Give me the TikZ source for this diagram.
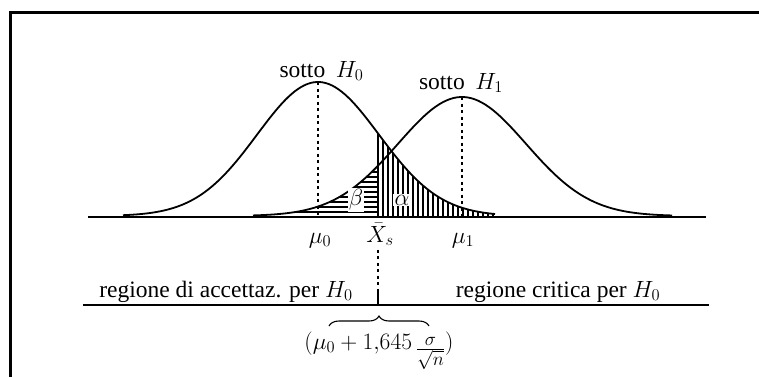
\RequirePackage{fix-cm}
\documentclass[tikz,border=0pt]{standalone}
\usepackage{fontspec}
\setmainfont{Liberation Serif}
\usetikzlibrary{decorations.pathreplacing}
\begin{document}
\begin{tikzpicture}[x=1pt,y=-1pt,
  lbl/.style={font=\fontsize{23.5}{27}\selectfont, inner sep=0pt},
  glbl/.style={font=\fontsize{23.5}{27}\selectfont, inner sep=1.2pt, fill=white},
  curve/.style={line width=1.8pt, line join=round},
  hatch/.style={line width=1.1pt},
  dashline/.style={line width=1.3pt, dash pattern=on 3pt off 3.5pt},
  axisline/.style={line width=1.3pt},
  regline/.style={line width=2.8pt},
]
\useasboundingbox (0,0) rectangle (759,376);
\begin{scope}
  \clip (0,0) rectangle (759,376);
  \draw[line width=3pt] (10.5,12) rectangle (800,420);
\end{scope}

% axis
\coordinate (axl) at (88,217);
\coordinate (axr) at (706,217);
\draw[axisline] (axl) -- (axr);

% hatching under H0 right of Xs (vertical)
\foreach \xx in {383,388,...,495} {
  \draw[hatch] (\xx,217) -- (\xx,{216-134*exp(-0.5*((\xx-318)/61)^2)});
}
% hatching under H1 left of Xs (horizontal)
\foreach \yy in {212,207,...,167} {
  \pgfmathsetmacro\xl{462-64*sqrt(2*ln(119/(216-\yy)))}
  \draw[hatch] (\xl,\yy) -- (378,\yy);
}

% curves
\draw[curve] plot[domain=123:495, samples=120, smooth] (\x,{216-134*exp(-0.5*((\x-318)/61)^2)});
\draw[curve] plot[domain=253:672, samples=120, smooth] (\x,{216-119*exp(-0.5*((\x-462)/64)^2)});

% Xs line
\coordinate (xtop) at (378,133.4);
\coordinate (xbot) at (378,217);
\draw[line width=1.8pt] (xtop) -- (xbot);

% dashed mean lines
\coordinate (p0) at (318,82);
\coordinate (q0) at (318,217);
\coordinate (p1) at (462,97);
\coordinate (q1) at (462,217);
\draw[dashline] (p0) -- (q0);
\draw[dashline] (p1) -- (q1);

% alpha beta
\node[glbl] (beta) at (356,200) {$\beta$};
\node[glbl] (alpha) at (402,200) {$\alpha$};

% top labels
\node[lbl, anchor=base] (s0) at (321.5,77) {sotto\hspace{0.45em}$H_0$};
\node[lbl, anchor=base] (s1) at (461,89) {sotto\hspace{0.45em}$H_1$};

% axis labels
\node[lbl, anchor=base] (m0) at (320,243) {$\mu_0$};
\node[lbl, anchor=base] (xs) at (380,242) {$\bar{X}_s$};
\node[lbl, anchor=base] (m1) at (463,243) {$\mu_1$};

% region line
\coordinate (bl) at (83,305);
\coordinate (br) at (709,305);
\draw[regline] (bl) -- (br);
\coordinate (ts) at (378,291);
\coordinate (tb) at (378,305);
\draw[dashline] ([yshift=-4pt]xs.south -| ts) -- (ts);
\draw[line width=1.8pt] (ts) -- (tb);

\node[lbl, anchor=base] (acc) at (226,297) {regione di accettaz. per $H_0$};
\node[lbl, anchor=base] (crit) at (558,297) {regione critica per $H_0$};

% brace
\coordinate (bra) at (329,326);
\coordinate (brb) at (429,326);
\draw[line width=1.1pt, decorate, decoration={brace, amplitude=10pt}] (bra) -- (brb);

\node[lbl, anchor=base] (form) at (379,349) {$(\mu_0 + 1{,}645\,\raisebox{-7pt}{\fontsize{27}{30}\selectfont$\frac{\sigma}{\sqrt{n}}$})$};
\end{tikzpicture}
\end{document}
